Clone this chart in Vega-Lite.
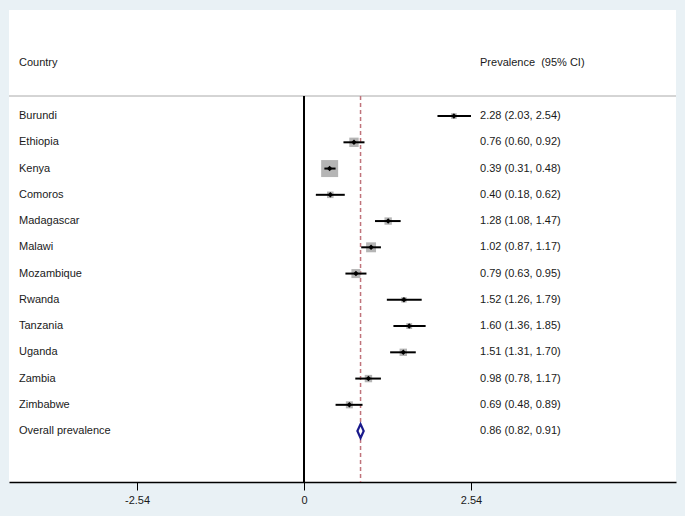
{
  "$schema": "https://vega.github.io/schema/vega-lite/v6.json",
  "width": 667,
  "height": 472,
  "autosize": {"type": "none"},
  "padding": {"left": 9, "top": 10, "right": 9, "bottom": 34},
  "background": "#e9f1f5",
  "config": {
    "view": {"fill": "white", "stroke": null},
    "font": "Liberation Sans",
    "text": {"font": "Liberation Sans", "fontSize": 11, "color": "#1a1a1a"}
  },
  "datasets": {
    "studies": [
      {"country": "Burundi", "row": 1, "est": 2.28, "lo": 2.03, "hi": 2.54, "weight": 3.6, "label": "2.28 (2.03, 2.54)", "kind": "study"},
      {"country": "Ethiopia", "row": 2, "est": 0.76, "lo": 0.60, "hi": 0.92, "weight": 9.8, "label": "0.76 (0.60, 0.92)", "kind": "study"},
      {"country": "Kenya", "row": 3, "est": 0.39, "lo": 0.31, "hi": 0.48, "weight": 32.2, "label": "0.39 (0.31, 0.48)", "kind": "study"},
      {"country": "Comoros", "row": 4, "est": 0.40, "lo": 0.18, "hi": 0.62, "weight": 4.8, "label": "0.40 (0.18, 0.62)", "kind": "study"},
      {"country": "Madagascar", "row": 5, "est": 1.28, "lo": 1.08, "hi": 1.47, "weight": 6.1, "label": "1.28 (1.08, 1.47)", "kind": "study"},
      {"country": "Malawi", "row": 6, "est": 1.02, "lo": 0.87, "hi": 1.17, "weight": 11.0, "label": "1.02 (0.87, 1.17)", "kind": "study"},
      {"country": "Mozambique", "row": 7, "est": 0.79, "lo": 0.63, "hi": 0.95, "weight": 9.1, "label": "0.79 (0.63, 0.95)", "kind": "study"},
      {"country": "Rwanda", "row": 8, "est": 1.52, "lo": 1.26, "hi": 1.79, "weight": 3.3, "label": "1.52 (1.26, 1.79)", "kind": "study"},
      {"country": "Tanzania", "row": 9, "est": 1.60, "lo": 1.36, "hi": 1.85, "weight": 3.9, "label": "1.60 (1.36, 1.85)", "kind": "study"},
      {"country": "Uganda", "row": 10, "est": 1.51, "lo": 1.31, "hi": 1.70, "weight": 6.1, "label": "1.51 (1.31, 1.70)", "kind": "study"},
      {"country": "Zambia", "row": 11, "est": 0.98, "lo": 0.78, "hi": 1.17, "weight": 6.1, "label": "0.98 (0.78, 1.17)", "kind": "study"},
      {"country": "Zimbabwe", "row": 12, "est": 0.69, "lo": 0.48, "hi": 0.89, "weight": 5.5, "label": "0.69 (0.48, 0.89)", "kind": "study"},
      {"country": "Overall prevalence", "row": 13, "est": 0.86, "lo": 0.82, "hi": 0.91, "weight": 100, "label": "0.86 (0.82, 0.91)", "kind": "overall"}
    ],
    "header": [{"col1": "Country", "col2": "Prevalence\u00a0 (95% CI)"}]
  },
  "data": {"name": "studies"},
  "layer": [
    {
      "mark": {"type": "rule", "color": "#d4d4d4", "strokeWidth": 1},
      "encoding": {
        "y": {"datum": 0.24, "type": "quantitative", "scale": {"domain": [-3.04, 14.94], "reverse": true, "nice": false, "zero": false}, "axis": null}
      }
    },
    {
      "mark": {"type": "rule", "color": "#000000", "strokeWidth": 1},
      "encoding": {
        "x": {"datum": 0, "type": "quantitative", "scale": {"domain": [-4.487, 5.658], "nice": false, "zero": false},
              "axis": {"values": [-2.54, 0, 2.54], "title": null, "grid": false, "domainColor": "#000000", "domainWidth": 1.5, "tickColor": "#000000", "tickSize": 8, "tickWidth": 1, "labelFont": "Liberation Sans", "labelFontSize": 11, "labelColor": "#1a1a1a", "labelPadding": 4,
                       "labelExpr": "datum.value == 0 ? '0' : (datum.value < 0 ? '-' : '') + format(abs(datum.value), '.2f')"}},
        "y": {"datum": 0.24, "type": "quantitative"},
        "y2": {"datum": 14.94}
      }
    },
    {
      "transform": [{"filter": "datum.kind == 'overall'"}],
      "mark": {"type": "rule", "color": "#c0737b", "strokeWidth": 1.5, "strokeDash": [4, 3]},
      "encoding": {
        "x": {"field": "est", "type": "quantitative"},
        "y": {"datum": 0.24, "type": "quantitative"},
        "y2": {"datum": 14.94}
      }
    },
    {
      "transform": [{"filter": "datum.kind == 'study'"}],
      "mark": {"type": "square", "color": "#b5b5b5", "opacity": 1, "filled": true},
      "encoding": {
        "x": {"field": "est", "type": "quantitative"},
        "y": {"field": "row", "type": "quantitative"},
        "size": {"field": "weight", "type": "quantitative", "scale": {"type": "linear", "domain": [0, 32.2], "range": [0, 289]}, "legend": null}
      }
    },
    {
      "transform": [{"filter": "datum.kind == 'study'"}],
      "mark": {"type": "rule", "color": "#000000", "strokeWidth": 2},
      "encoding": {
        "x": {"field": "lo", "type": "quantitative"},
        "x2": {"field": "hi"},
        "y": {"field": "row", "type": "quantitative"}
      }
    },
    {
      "transform": [{"filter": "datum.kind == 'study'"}],
      "mark": {"type": "point", "shape": "diamond", "filled": true, "color": "#000000", "opacity": 1, "size": 30},
      "encoding": {
        "x": {"field": "est", "type": "quantitative"},
        "y": {"field": "row", "type": "quantitative"}
      }
    },
    {
      "transform": [{"filter": "datum.kind == 'overall'"}],
      "mark": {"type": "point", "shape": "M-0.45,0L0,-1L0.45,0L0,1Z", "filled": false, "fill": "white", "fillOpacity": 1, "stroke": "#1a1a8c", "strokeWidth": 2.2, "opacity": 1, "size": 196},
      "encoding": {
        "x": {"field": "est", "type": "quantitative"},
        "y": {"field": "row", "type": "quantitative"}
      }
    },
    {
      "mark": {"type": "text", "align": "left", "baseline": "middle"},
      "encoding": {
        "x": {"datum": -4.335, "type": "quantitative"},
        "y": {"field": "row", "type": "quantitative"},
        "text": {"field": "country"}
      }
    },
    {
      "mark": {"type": "text", "align": "left", "baseline": "middle"},
      "encoding": {
        "x": {"datum": 2.677, "type": "quantitative"},
        "y": {"field": "row", "type": "quantitative"},
        "text": {"field": "label"}
      }
    },
    {
      "data": {"name": "header"},
      "mark": {"type": "text", "align": "left", "baseline": "middle"},
      "encoding": {
        "x": {"datum": -4.335, "type": "quantitative"},
        "y": {"datum": -1.02, "type": "quantitative"},
        "text": {"field": "col1"}
      }
    },
    {
      "data": {"name": "header"},
      "mark": {"type": "text", "align": "left", "baseline": "middle"},
      "encoding": {
        "x": {"datum": 2.677, "type": "quantitative"},
        "y": {"datum": -1.02, "type": "quantitative"},
        "text": {"field": "col2"}
      }
    }
  ]
}
